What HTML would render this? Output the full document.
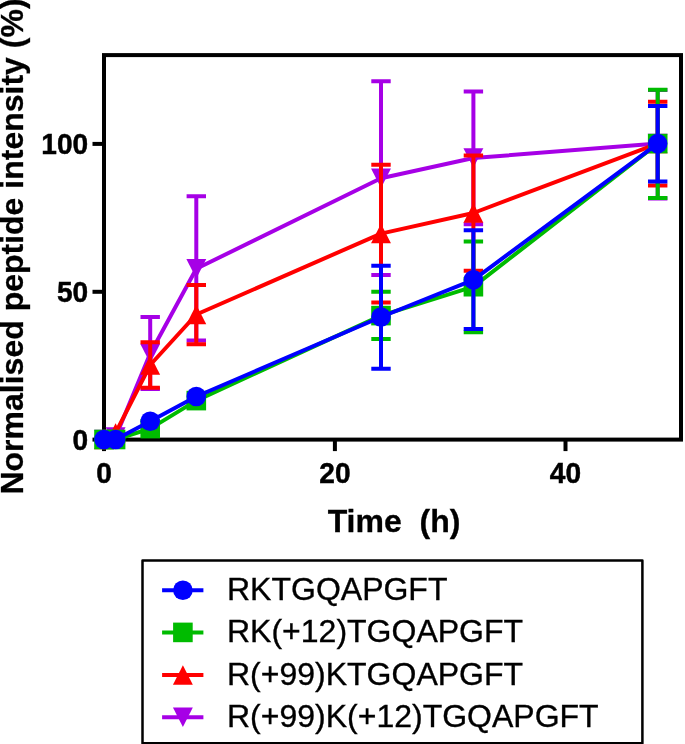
<!DOCTYPE html>
<html lang="en">
<head>
<meta charset="utf-8">
<title>Normalised peptide intensity vs time</title>
<style>
html,body{margin:0;padding:0;background:#fff;}
body{width:685px;height:744px;overflow:hidden;}
svg{display:block;will-change:transform;}
text{font-family:"Liberation Sans",sans-serif;fill:#000;}
.b{font-weight:bold;}
.tick{font-size:28.1px;font-weight:bold;stroke:#000;stroke-width:0.45px;}
.title{font-size:32px;font-weight:bold;stroke:#000;stroke-width:0.3px;}
.leg{font-size:32px;stroke:#000;stroke-width:0.35px;}
</style>
</head>
<body>
<svg width="685" height="744" viewBox="0 0 685 744">
<rect x="0" y="0" width="685" height="744" fill="#fff"/>

<g stroke="#000" stroke-width="4" fill="none">
<rect x="104" y="55.1" width="577" height="384.5"/>
<path d="M92.5 439.6H104"/>
<path d="M92.5 291.8H104"/>
<path d="M92.5 143.9H104"/>
<path d="M104 439.6V451.1"/>
<path d="M334.9 439.6V451.1"/>
<path d="M565.5 439.6V451.1"/>
</g>
<g stroke="#A600E6" stroke-width="4.0" fill="none">
<path d="M150.2 317.1V388.9M140.5 317.1H159.9M140.5 388.9H159.9"/>
<path d="M196.3 196.3V340.6M186.6 196.3H206.0M186.6 340.6H206.0"/>
<path d="M381.0 81.3V274.9M371.3 81.3H390.7M371.3 274.9H390.7"/>
<path d="M473.4 91.5V224.3M463.7 91.5H483.1M463.7 224.3H483.1"/>
<path d="M657.7 89.9V198.4M648.0 89.9H667.4M648.0 198.4H667.4"/>
<polyline points="104.0,439.5 115.6,437.0 150.2,353.5 196.3,268.8 381.0,178.2 473.4,158.0 657.7,143.6" stroke-linejoin="round"/>
</g>
<polygon points="104.0,449.25 113.95,429.75 94.05,429.75" fill="#A600E6"/>
<polygon points="115.6,446.75 125.55,427.25 105.65,427.25" fill="#A600E6"/>
<polygon points="150.2,363.25 160.15,343.75 140.25,343.75" fill="#A600E6"/>
<polygon points="196.3,278.55 206.25,259.05 186.35,259.05" fill="#A600E6"/>
<polygon points="381.0,187.95 390.95,168.45 371.05,168.45" fill="#A600E6"/>
<polygon points="473.4,167.75 483.35,148.25 463.45,148.25" fill="#A600E6"/>
<polygon points="657.7,153.35 667.65,133.85 647.75,133.85" fill="#A600E6"/>
<g stroke="#FF0000" stroke-width="4.0" fill="none">
<path d="M150.2 342.3V387.8M140.5 342.3H159.9M140.5 387.8H159.9"/>
<path d="M196.3 284.9V344.2M186.6 284.9H206.0M186.6 344.2H206.0"/>
<path d="M381.0 164.7V302.5M371.3 164.7H390.7M371.3 302.5H390.7"/>
<path d="M473.4 155.5V270.7M463.7 155.5H483.1M463.7 270.7H483.1"/>
<path d="M657.7 101.8V185.4M648.0 101.8H667.4M648.0 185.4H667.4"/>
<polyline points="104.0,439.5 115.6,432.9 150.2,365.0 196.3,314.5 381.0,233.6 473.4,213.0 657.7,143.6" stroke-linejoin="round"/>
</g>
<polygon points="104.0,429.75 113.95,449.25 94.05,449.25" fill="#FF0000"/>
<polygon points="115.6,423.15 125.55,442.65 105.65,442.65" fill="#FF0000"/>
<polygon points="150.2,355.25 160.15,374.75 140.25,374.75" fill="#FF0000"/>
<polygon points="196.3,304.75 206.25,324.25 186.35,324.25" fill="#FF0000"/>
<polygon points="381.0,223.85 390.95,243.35 371.05,243.35" fill="#FF0000"/>
<polygon points="473.4,203.25 483.35,222.75 463.45,222.75" fill="#FF0000"/>
<polygon points="657.7,133.85 667.65,153.35 647.75,153.35" fill="#FF0000"/>
<g stroke="#00BB00" stroke-width="4.0" fill="none">
<path d="M381.0 291.8V339.0M371.3 291.8H390.7M371.3 339.0H390.7"/>
<path d="M473.4 241.4V332.3M463.7 241.4H483.1M463.7 332.3H483.1"/>
<path d="M657.7 89.7V197.9M648.0 89.7H667.4M648.0 197.9H667.4"/>
<polyline points="104.0,439.5 115.6,439.5 150.2,428.6 196.3,400.6 381.0,315.6 473.4,286.7 657.7,143.6" stroke-linejoin="round"/>
</g>
<rect x="94.2" y="429.7" width="19.6" height="19.6" fill="#00BB00"/>
<rect x="105.8" y="429.7" width="19.6" height="19.6" fill="#00BB00"/>
<rect x="140.4" y="418.8" width="19.6" height="19.6" fill="#00BB00"/>
<rect x="186.5" y="390.8" width="19.6" height="19.6" fill="#00BB00"/>
<rect x="371.2" y="305.8" width="19.6" height="19.6" fill="#00BB00"/>
<rect x="463.6" y="276.9" width="19.6" height="19.6" fill="#00BB00"/>
<rect x="647.9" y="133.8" width="19.6" height="19.6" fill="#00BB00"/>
<g stroke="#0000FF" stroke-width="4.0" fill="none">
<path d="M381.0 265.8V368.7M371.3 265.8H390.7M371.3 368.7H390.7"/>
<path d="M473.4 230.3V329.0M463.7 230.3H483.1M463.7 329.0H483.1"/>
<path d="M657.7 105.9V181.4M648.0 105.9H667.4M648.0 181.4H667.4"/>
<polyline points="104.0,439.5 115.6,439.5 150.2,421.2 196.3,396.5 381.0,317.0 473.4,279.8 657.7,143.6" stroke-linejoin="round"/>
</g>
<circle cx="104.0" cy="439.5" r="9.8" fill="#0000FF"/>
<circle cx="115.6" cy="439.5" r="9.8" fill="#0000FF"/>
<circle cx="150.2" cy="421.2" r="9.8" fill="#0000FF"/>
<circle cx="196.3" cy="396.5" r="9.8" fill="#0000FF"/>
<circle cx="381.0" cy="317.0" r="9.8" fill="#0000FF"/>
<circle cx="473.4" cy="279.8" r="9.8" fill="#0000FF"/>
<circle cx="657.7" cy="143.6" r="9.8" fill="#0000FF"/>
<text class="tick" transform="translate(88.2 449.6) scale(1 1.07)" text-anchor="end">0</text>
<text class="tick" transform="translate(88.2 302.1) scale(1 1.07)" text-anchor="end">50</text>
<text class="tick" transform="translate(88.2 154.2) scale(1 1.07)" text-anchor="end">100</text>
<text class="tick" transform="translate(104 482.5) scale(1 1.07)" text-anchor="middle">0</text>
<text class="tick" transform="translate(334.9 482.5) scale(1 1.07)" text-anchor="middle">20</text>
<text class="tick" transform="translate(565.5 482.5) scale(1 1.07)" text-anchor="middle">40</text>
<text class="title" x="394" y="531.5" text-anchor="middle" xml:space="preserve">Time  (h)</text>
<text class="title" transform="translate(23.2 246.5) rotate(-90)" text-anchor="middle">Normalised peptide intensity (%)</text>
<rect x="142.5" y="560.45" width="499.9" height="182.8" fill="#fff" stroke="#000" stroke-width="2.5" stroke-linejoin="round"/>
<path d="M162.1 590.2H203.4" stroke="#0000FF" stroke-width="4.0"/>
<circle cx="182.9" cy="590.2" r="9.8" fill="#0000FF"/>
<text class="leg" x="227" y="600.0">RKTGQAPGFT</text>
<path d="M162.1 632.4H203.4" stroke="#00BB00" stroke-width="4.0"/>
<rect x="173.1" y="622.6" width="19.6" height="19.6" fill="#00BB00"/>
<text class="leg" x="227" y="642.2">RK(+12)TGQAPGFT</text>
<path d="M162.1 675.0H203.4" stroke="#FF0000" stroke-width="4.0"/>
<polygon points="182.9,665.25 192.85,684.75 172.95,684.75" fill="#FF0000"/>
<text class="leg" x="227" y="684.8">R(+99)KTGQAPGFT</text>
<path d="M162.1 717.2H203.4" stroke="#A600E6" stroke-width="4.0"/>
<polygon points="182.9,726.95 192.85,707.45 172.95,707.45" fill="#A600E6"/>
<text class="leg" x="227" y="727.0">R(+99)K(+12)TGQAPGFT</text>
</svg>
</body>
</html>
